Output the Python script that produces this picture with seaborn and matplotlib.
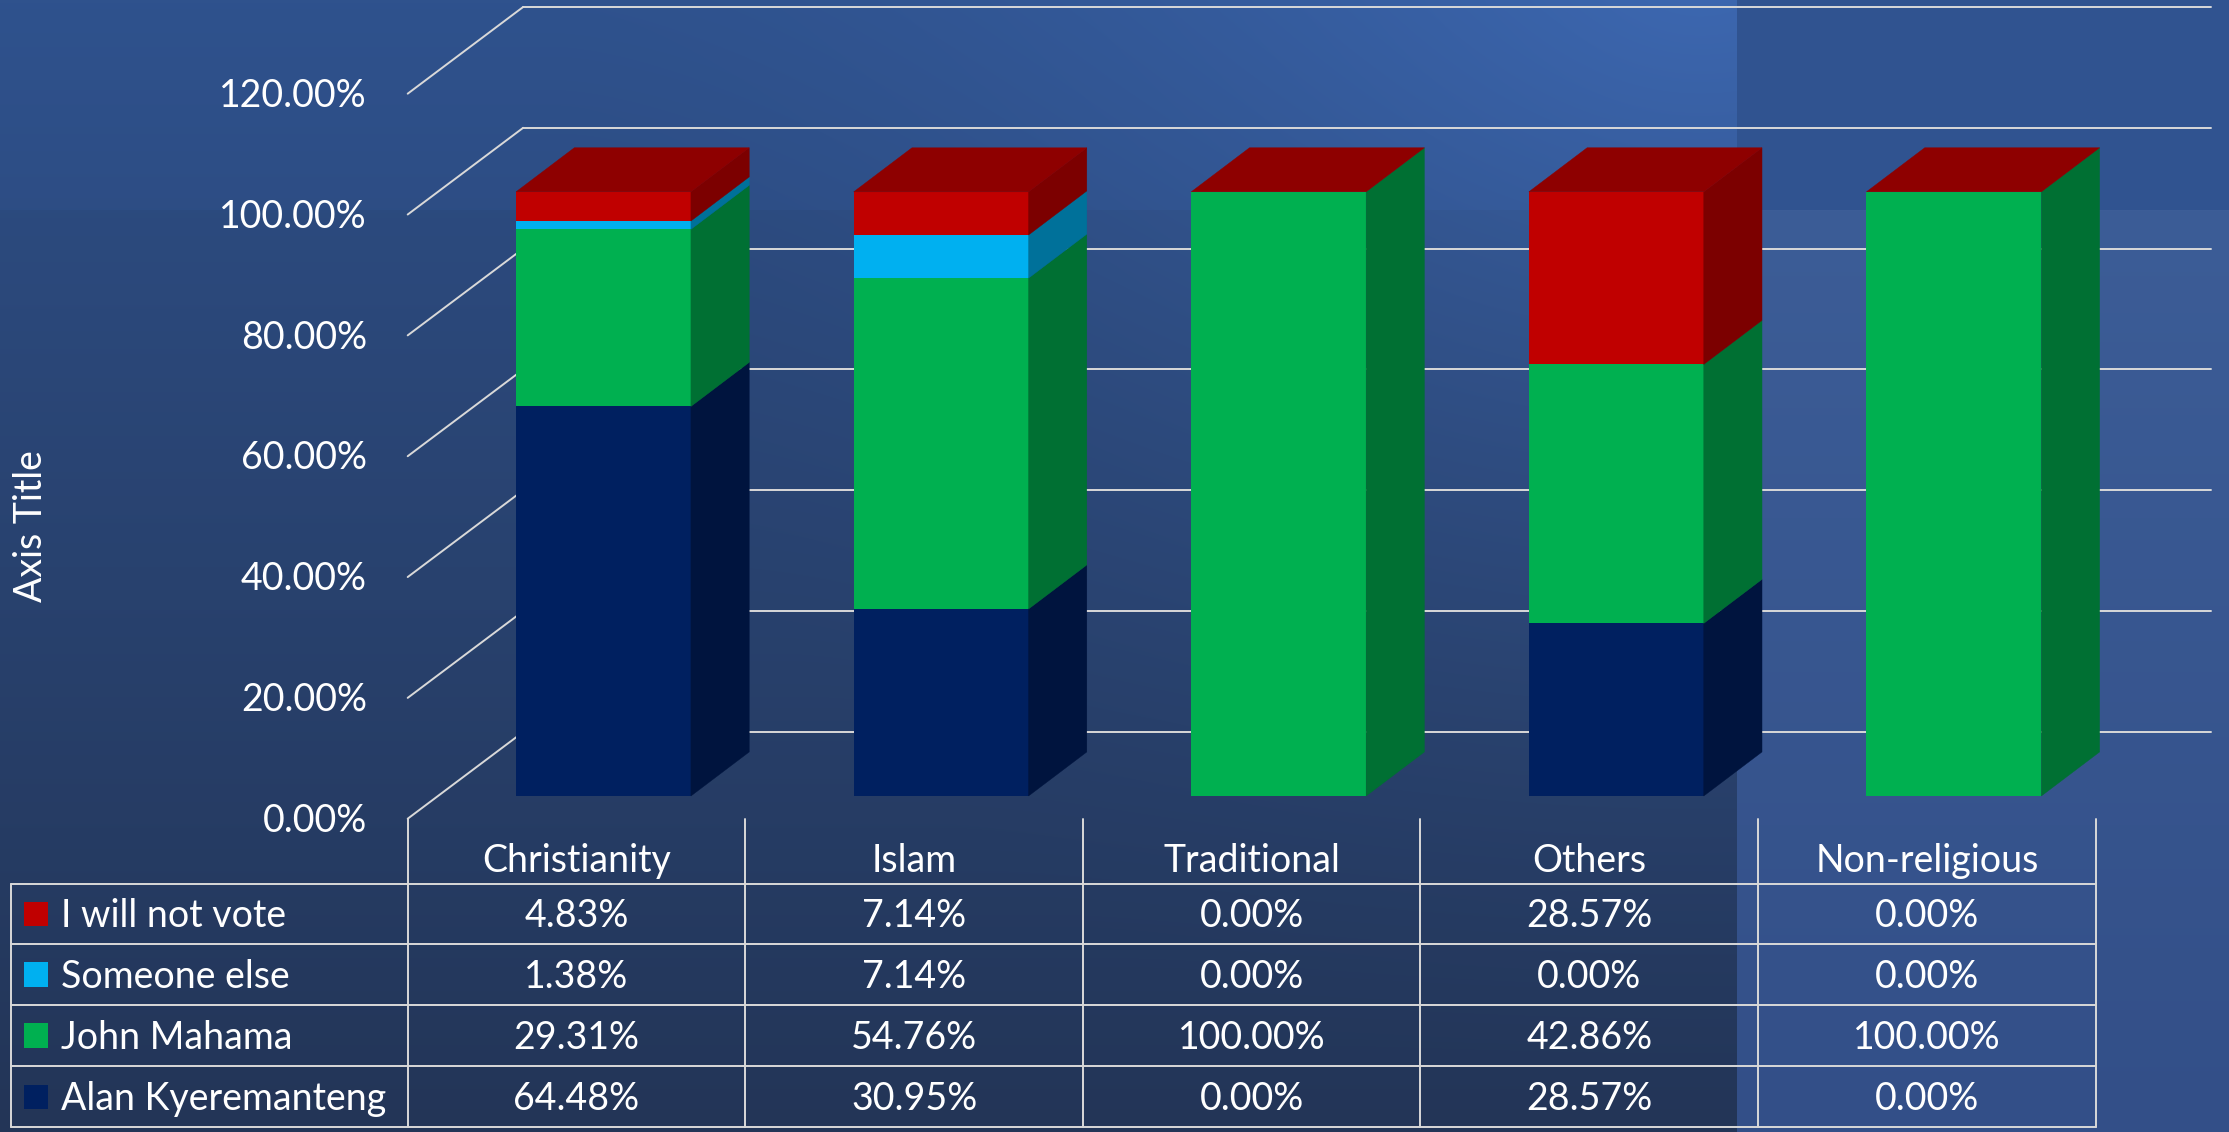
import numpy as np
import pandas as pd
import matplotlib.pyplot as plt
from matplotlib.patches import Polygon, Rectangle
import seaborn as sns


categories = ["Christianity", "Islam", "Traditional", "Others", "Non-religious"]
series_names = ["I will not vote", "Someone else", "John Mahama", "Alan Kyeremanteng"]
not_vote = [4.83, 7.14, 0.00, 28.57, 0.00]
someone_else = [1.38, 7.14, 0.00, 0.00, 0.00]
mahama = [29.31, 54.76, 100.00, 42.86, 100.00]
kyeremanteng = [64.48, 30.95, 0.00, 28.57, 0.00]
y_ticks = [0, 20, 40, 60, 80, 100, 120]

# front / side / top shades, same order as series_names
front_colors = ["#c00000", "#00b0f0", "#00b050", "#002060"]
side_colors = ["#7c0000", "#00719a", "#007033", "#00143e"]
top_colors = ["#8e0000", "#0080ad", "#007f39", "#001a4d"]

W_PX, H_PX = 2229, 1132
BAR_W = 0.518
# 3d offsets in data units (x in categories, y in percent)
FX, FY = -0.080, -3.76     # front edge of the floor / table
BX, BY = 0.262, 10.59      # back wall
DXB, DYB = 0.1726, 7.29    # depth of one bar
GRID = "#d9d9d9"


def make_background(w, h):
    """
    Blue slide background: vertical gradient, glow near the top and a lighter right panel.
    """
    yy, xx = np.mgrid[0:h, 0:w].astype(float)
    top = np.array([0x2e, 0x4f, 0x87]) / 255
    bot = np.array([0x23, 0x35, 0x57]) / 255
    t = (yy / h)[..., None]
    img = top * (1 - t) + bot * t
    d = np.hypot(xx - 1700, yy + 40)
    glow = np.clip(1 - d / 1150, 0, 1)[..., None] ** 1.6
    img = img + glow * (np.array([0x3c, 0x65, 0xab]) / 255 - top)

    split_x, split_y = 1737, 210
    upper_left = (xx < split_x) & (yy < split_y)
    img[upper_left] += np.array([0.004, 0.012, 0.025])

    right_top = (xx >= split_x) & (yy < split_y)
    img[right_top] = np.array([0x30, 0x53, 0x90]) / 255
    right_low = (xx >= split_x) & (yy >= split_y)
    tt = ((yy - split_y) / (h - split_y))[right_low][:, None]
    c1 = np.array([0x3c, 0x5d, 0x97]) / 255
    c2 = np.array([0x33, 0x4f, 0x88]) / 255
    img[right_low] = c1 * (1 - tt) + c2 * tt
    return np.clip(img, 0, 1)


sns.set_theme(style="white")
plt.rcParams["font.family"] = ["Lato", "DejaVu Sans"]

values = [not_vote, someone_else, mahama, kyeremanteng]
df = pd.DataFrame({name: vals for name, vals in zip(series_names, values)}, index=categories)
stack = df[series_names[::-1]]          # bottom -> top
tops = stack.cumsum(axis=1)
bottoms = tops - stack

fig = plt.figure(figsize=(W_PX / 100, H_PX / 100), dpi=100)
bg = fig.add_axes([0, 0, 1, 1])
bg.imshow(make_background(W_PX, H_PX), aspect="auto", interpolation="bilinear")
bg.set_axis_off()

ax = fig.add_axes([0, 0, 1, 1])
ax.patch.set_alpha(0)

# front faces: cumulative bars, tallest first so lower segments cover them
for idx, name in enumerate(series_names):
    sns.barplot(x=categories, y=tops[name].values, order=categories, color=front_colors[idx],
                saturation=1, width=BAR_W, linewidth=0, errorbar=None, ax=ax, zorder=3)

n = len(categories)
x_left, x_right = -0.5, n - 0.5

# left wall diagonals and back wall gridlines
for t in y_ticks:
    ax.plot([x_left + FX, x_left + BX], [t + FY, t + BY], color=GRID, lw=1.4, zorder=1)
    ax.plot([x_left + BX, x_right + BX], [t + BY, t + BY], color=GRID, lw=1.4, zorder=1)
    ax.text(-0.701, t + FY - 2.2, f"{t:.2f}%", ha="right", va="baseline",
            color="white", fontsize=27)

# side faces per segment and the top face of each column
for i, cat in enumerate(categories):
    xr = i + BAR_W / 2
    for name in stack.columns:
        lo, hi = bottoms.loc[cat, name], tops.loc[cat, name]
        if hi - lo <= 0:
            continue
        c = side_colors[series_names.index(name)]
        ax.add_patch(Polygon([(xr, lo), (xr + DXB, lo + DYB), (xr + DXB, hi + DYB), (xr, hi)],
                             closed=True, facecolor=c, edgecolor=c, lw=0.3, zorder=3))
    total = tops.loc[cat].iloc[-1]
    # Excel paints the lid with the last series' colour even when it is 0
    ax.add_patch(Polygon([(i - BAR_W / 2, total), (xr, total), (xr + DXB, total + DYB),
                          (i - BAR_W / 2 + DXB, total + DYB)],
                         closed=True, facecolor=top_colors[0], edgecolor=top_colors[0],
                         lw=0.3, zorder=3))

# data table under the chart
row_lines = [-14.59, -24.47, -34.59, -44.71, -54.82]
table_left = -1.754
for k in range(n + 1):
    ax.plot([k - 0.5 + FX] * 2, [FY, row_lines[-1]], color=GRID, lw=1.4, zorder=4)
ax.plot([table_left] * 2, [row_lines[0], row_lines[-1]], color=GRID, lw=1.4, zorder=4)
for yl in row_lines:
    ax.plot([table_left, x_right + FX], [yl, yl], color=GRID, lw=1.4, zorder=4)

for i, cat in enumerate(categories):
    ax.text(i + FX, -10.35 - 2.2, cat, ha="center", va="baseline", color="white", fontsize=27)

for r, name in enumerate(series_names):
    yc = (row_lines[r] + row_lines[r + 1]) / 2
    ax.add_patch(Rectangle((-1.716, yc - 2.0), 0.072, 4.0, facecolor=front_colors[r],
                           edgecolor="none", zorder=4))
    ax.text(-1.606, yc - 2.2, name, ha="left", va="baseline", color="white", fontsize=27)
    for i, cat in enumerate(categories):
        ax.text(i + FX, yc - 2.2, f"{df.loc[cat, name]:.2f}%", ha="center", va="baseline",
                color="white", fontsize=27)

ax.text(-1.695, 44.7, "Axis Title", rotation=90, ha="center", va="center",
        color="white", fontsize=27)

ax.set_xlim(-603.5 / 337.6, (W_PX - 603.5) / 337.6)
ax.set_ylim((796 - H_PX) / 6.042, 796 / 6.042)
ax.set_axis_off()

fig.savefig("out.png", dpi=100)
